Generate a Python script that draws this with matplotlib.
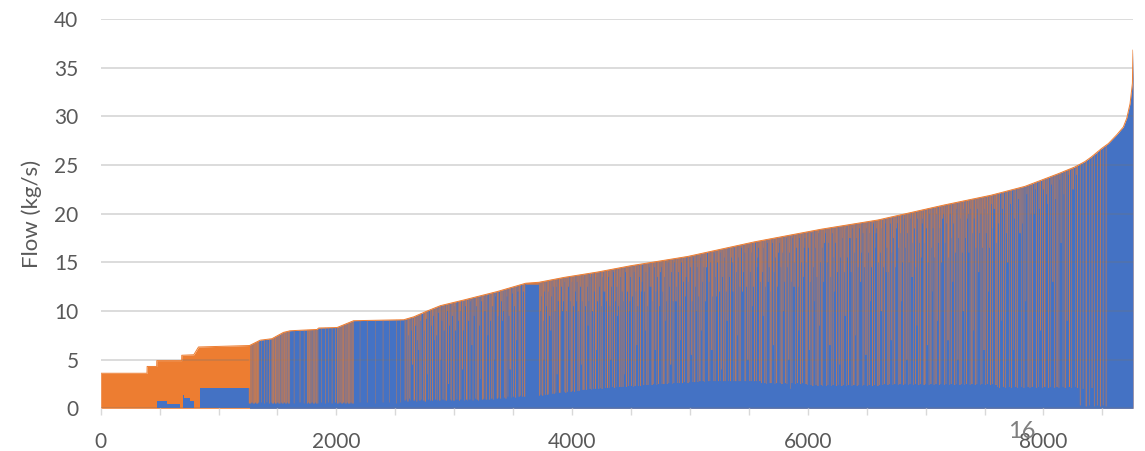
import numpy as np
import matplotlib
matplotlib.use("Agg")
import matplotlib.pyplot as plt
from matplotlib.patches import Polygon
from matplotlib.ticker import MultipleLocator

# ---------------- data ----------------
# total flow duration curve (orange envelope), hour -> kg/s
env_hours = [0, 393, 394, 475, 476, 687, 688, 790, 830, 1263, 1354, 1453, 1551,
             1609, 1836, 1850, 2006, 2147, 2572, 2657, 2771, 2884, 3082, 3366,
             3607, 3720, 3933, 4216, 4499, 4981, 5547, 6114, 6596, 7162, 7558,
             7842, 7984, 8125, 8267, 8352, 8409, 8494, 8551, 8622, 8678, 8707,
             8735, 8755, 8760]
env_vals = [3.6, 3.6, 4.3, 4.3, 4.9, 4.9, 5.45, 5.5, 6.3, 6.45, 7.0, 7.15, 7.8,
            7.97, 8.1, 8.25, 8.3, 9.0, 9.1, 9.4, 10.0, 10.55, 11.13, 12.0,
            12.85, 12.95, 13.45, 14.0, 14.65, 15.6, 17.1, 18.4, 19.35, 20.9, 21.9,
            22.8, 23.45, 24.1, 24.8, 25.35, 25.85, 26.7, 27.2, 28.1, 28.9, 29.8,
            31.3, 33.4, 36.8]

# blue series at the low end (step values), before it follows the envelope
blue_left_hours = [0, 476, 560, 672, 695, 705, 760, 790, 843, 1263]
blue_left_vals = [0.0, 0.7, 0.42, 0.0, 1.3, 1.1, 0.8, 0.0, 2.05, 2.05]
# isolated blue spikes in the orange zone: (start hour, hours, value)
blue_spikes = [(700, 3, 1.4), (815, 4, 6.2), (1250, 3, 6.4)]

# hours where the blue series drops below the total: (start hour, hours, blue value)
dips_b = [(1258, 9, 0.5), (1269, 7, 0.5), (1278, 10, 0.6), (1291, 6, 0.5), (1299, 9, 0.5),
          (1310, 7, 0.6), (1319, 6, 0.5), (1327, 9, 0.5), (1338, 6, 0.6),
          (1362, 2, 0.6), (1388, 3, 0.5), (1410, 2, 0.6), (1432, 4, 0.5), (1445, 3, 0.6),
          (1455, 5, 0.5), (1464, 6, 0.5), (1474, 3, 0.6), (1480, 7, 0.5), (1492, 4, 0.5),
          (1500, 6, 0.6), (1510, 3, 0.5), (1516, 8, 0.5), (1530, 4, 0.6), (1538, 6, 0.5),
          (1548, 3, 0.5), (1555, 7, 0.6), (1567, 4, 0.5), (1575, 5, 0.5), (1585, 3, 0.6),
          (1592, 6, 0.5), (1602, 4, 0.5),
          (1640, 2, 0.5), (1690, 3, 0.6), (1725, 2, 0.5),
          (1752, 5, 0.5), (1762, 4, 0.6), (1770, 7, 0.5), (1782, 3, 0.5), (1790, 6, 0.6),
          (1802, 4, 0.5), (1810, 5, 0.5), (1821, 3, 0.6), (1830, 6, 0.5), (1841, 4, 0.5),
          (1870, 2, 0.6), (1905, 3, 0.5), (1935, 2, 0.6), (1962, 3, 0.5), (1990, 4, 0.6),
          (2008, 6, 0.5), (2019, 4, 0.5), (2028, 7, 0.6), (2040, 3, 0.5), (2048, 5, 0.5),
          (2058, 8, 0.6), (2072, 4, 0.5), (2080, 6, 0.5), (2092, 3, 0.6), (2100, 5, 0.5),
          (2110, 7, 0.5), (2122, 4, 0.6), (2131, 6, 0.5), (2141, 4, 0.5),
          (2200, 1, 0.6), (2260, 2, 0.6), (2330, 1, 0.5), (2395, 2, 0.6), (2450, 1, 0.6),
          (2510, 2, 0.5), (2545, 1, 0.6)]

dips_c = [(2581, 4, 0.8), (2590, 2, 0.9), (2604, 6, 0.7), (2617, 3, 1.0), (2626, 1, 0.8),
          (2643, 5, 4.5), (2657, 7, 0.8), (2664, 2, 0.9), (2681, 4, 0.7), (2698, 3, 6.0),
          (2706, 6, 0.8), (2722, 1, 0.9), (2739, 5, 0.8), (2751, 8, 0.7), (2770, 2, 3.5),
          (2783, 3, 0.9), (2795, 4, 0.8), (2812, 6, 0.8), (2830, 2, 7.0), (2841, 5, 0.9),
          (2858, 1, 0.8), (2874, 7, 0.8), (2885, 3, 5.0), (2903, 4, 0.9), (2921, 2, 0.8),
          (2930, 6, 0.8), (2948, 5, 2.5), (2967, 1, 0.9), (2976, 3, 0.8), (2994, 8, 0.8),
          (3010, 4, 8.0), (3022, 2, 0.9), (3041, 5, 0.8), (3055, 3, 0.9), (3067, 6, 4.0),
          (3086, 2, 0.8), (3101, 7, 0.9), (3112, 1, 0.8), (3131, 4, 0.9), (3148, 5, 6.5),
          (3158, 3, 0.8), (3177, 2, 1.0), (3192, 6, 0.9), (3204, 4, 0.8), (3224, 1, 3.0),
          (3238, 8, 0.9), (3250, 3, 1.0), (3269, 5, 0.9), (3285, 2, 7.5), (3296, 4, 0.9),
          (3316, 6, 1.0), (3331, 3, 0.9), (3343, 1, 5.0), (3362, 7, 1.0), (3378, 2, 1.1),
          (3389, 5, 1.0), (3409, 4, 9.0), (3424, 3, 1.1), (3436, 6, 1.0), (3455, 2, 1.2),
          (3471, 8, 4.0), (3482, 1, 1.1), (3502, 4, 1.2), (3517, 5, 1.1), (3530, 3, 7.0),
          (3548, 6, 1.2), (3563, 2, 1.3), (3576, 4, 1.2), (3594, 7, 1.2), (3607, 111, 12.7)]
dips_c_top = [(2612, 3, 7.5), (2633, 2, 8.0), (2672, 4, 8.5), (2690, 2, 7.0), (2715, 3, 9.0),
              (2746, 2, 8.0), (2762, 5, 9.2), (2803, 2, 8.5), (2821, 3, 9.5), (2850, 4, 7.5),
              (2866, 2, 9.8), (2895, 3, 9.0), (2912, 5, 8.0), (2940, 2, 10.0), (2958, 3, 8.5),
              (2985, 4, 9.5), (3003, 2, 10.5), (3033, 3, 9.0), (3048, 5, 10.0), (3077, 2, 8.0),
              (3094, 3, 10.5), (3121, 4, 9.0), (3140, 2, 11.0), (3167, 3, 9.5), (3185, 5, 10.5),
              (3214, 2, 8.5), (3230, 3, 11.0), (3259, 4, 10.0), (3277, 2, 11.5), (3306, 3, 9.0),
              (3324, 5, 10.5), (3352, 2, 11.5), (3370, 3, 9.5), (3398, 4, 11.0), (3416, 2, 10.0),
              (3446, 3, 11.5), (3463, 5, 9.5), (3492, 2, 11.8), (3509, 3, 10.5), (3539, 4, 12.0),
              (3556, 2, 10.0), (3586, 3, 12.0)]

dips_d = [(3722, 5, 1.3), (3735, 3, 1.4), (3748, 6, 1.3), (3760, 2, 5.0), (3774, 4, 1.4),
          (3790, 7, 1.4), (3801, 1, 1.5), (3817, 5, 8.0), (3830, 3, 1.5), (3845, 6, 1.5),
          (3862, 2, 1.6), (3871, 4, 3.5), (3889, 8, 1.6), (3903, 3, 1.6), (3916, 5, 10.0),
          (3932, 2, 1.7), (3944, 6, 1.6), (3960, 4, 1.7), (3977, 1, 6.0), (3989, 7, 1.7),
          (4004, 3, 1.8), (4018, 5, 1.7), (4035, 2, 11.0), (4047, 6, 1.8), (4063, 4, 1.8),
          (4076, 3, 4.5), (4090, 8, 1.9), (4107, 2, 1.9), (4119, 5, 1.9), (4134, 3, 8.5),
          (4150, 6, 2.0), (4163, 1, 1.9), (4178, 4, 2.0), (4195, 7, 2.0), (4208, 3, 6.0),
          (4224, 5, 2.0), (4240, 2, 2.1), (4252, 6, 2.0), (4269, 4, 12.0), (4283, 3, 2.1),
          (4297, 8, 2.1), (4314, 2, 2.1), (4326, 5, 5.0), (4342, 3, 2.2), (4357, 6, 2.1),
          (4373, 1, 2.2), (4385, 4, 9.5), (4401, 7, 2.2), (4415, 3, 2.2), (4430, 5, 2.2),
          (4446, 2, 3.5), (4459, 6, 2.2), (4475, 4, 2.3), (4489, 3, 11.0), (4503, 5, 2.3),
          (4519, 2, 2.2), (4532, 7, 2.3), (4548, 4, 6.5), (4563, 3, 2.3), (4577, 6, 2.3),
          (4592, 2, 13.0)]
dips_d_top = [(3728, 3, 10.0), (3742, 2, 11.5), (3755, 4, 9.0), (3767, 3, 12.0), (3782, 2, 10.5),
              (3797, 3, 12.0), (3809, 5, 9.5), (3824, 2, 11.5), (3838, 3, 12.5), (3853, 4, 10.0),
              (3867, 2, 12.5), (3880, 3, 11.0), (3896, 2, 9.5), (3910, 4, 12.5), (3924, 3, 11.0),
              (3938, 2, 13.0), (3952, 3, 10.0), (3968, 5, 12.5), (3983, 2, 11.0), (3997, 3, 13.0),
              (4011, 4, 10.5), (4026, 2, 12.0), (4041, 3, 13.0), (4056, 2, 10.0), (4070, 5, 12.5),
              (4084, 3, 11.0), (4099, 2, 13.5), (4113, 4, 10.5), (4127, 3, 12.5), (4142, 2, 11.0),
              (4157, 3, 13.5), (4171, 5, 10.0), (4186, 2, 12.0), (4201, 3, 13.5), (4216, 4, 11.0),
              (4231, 2, 12.5), (4246, 3, 10.5), (4260, 2, 13.5), (4276, 5, 12.0), (4290, 3, 11.0),
              (4306, 2, 13.5), (4320, 4, 10.5), (4334, 3, 12.5), (4349, 2, 14.0), (4364, 3, 11.0),
              (4379, 5, 12.5), (4393, 2, 10.5), (4408, 3, 13.5), (4423, 4, 12.0), (4438, 2, 11.0),
              (4452, 3, 14.0), (4467, 5, 12.0), (4482, 2, 10.0), (4496, 3, 13.5), (4511, 4, 11.5),
              (4525, 2, 14.0), (4540, 3, 12.0), (4556, 5, 10.5), (4570, 2, 13.5), (4585, 3, 12.0)]

dips_e = [(4606, 5, 2.4), (4619, 3, 8.0), (4632, 6, 2.4), (4647, 2, 2.4), (4660, 4, 12.5),
          (4676, 7, 2.4), (4690, 3, 2.5), (4703, 5, 6.0), (4719, 2, 2.4), (4731, 6, 2.5),
          (4747, 4, 14.0), (4762, 3, 2.5), (4775, 8, 2.5), (4792, 2, 9.0), (4805, 5, 2.5),
          (4820, 3, 2.6), (4834, 6, 4.5), (4850, 1, 2.5), (4862, 4, 2.6), (4878, 7, 11.0),
          (4893, 3, 2.6), (4907, 5, 2.6), (4922, 2, 7.0), (4935, 6, 2.6), (4951, 4, 2.7),
          (4965, 3, 13.5), (4980, 8, 2.6), (4996, 2, 2.7), (5009, 5, 5.5), (5024, 3, 2.7),
          (5038, 6, 2.7), (5053, 1, 10.0), (5066, 4, 2.7), (5081, 7, 2.8), (5096, 3, 8.0),
          (5110, 5, 2.8), (5125, 2, 2.7), (5138, 6, 14.5), (5154, 4, 2.8), (5168, 3, 2.8),
          (5182, 8, 6.0), (5198, 2, 2.8), (5211, 5, 2.8), (5226, 3, 11.5), (5240, 6, 2.8),
          (5256, 1, 2.8), (5268, 4, 4.0), (5284, 7, 2.8), (5299, 3, 2.8), (5313, 5, 9.0),
          (5328, 2, 2.8), (5341, 6, 2.8), (5357, 4, 15.0), (5372, 3, 2.8), (5385, 8, 2.8),
          (5402, 2, 7.5), (5415, 5, 2.8), (5430, 3, 2.8), (5444, 6, 12.0), (5460, 1, 2.8),
          (5472, 4, 2.8), (5488, 7, 5.0), (5503, 3, 2.8), (5517, 5, 2.8), (5532, 2, 10.5),
          (5545, 6, 2.8), (5561, 4, 2.8), (5575, 3, 15.5), (5589, 8, 2.8)]
dips_e_top = [(4613, 3, 12.0), (4626, 2, 14.0), (4640, 3, 10.5), (4653, 2, 14.5), (4668, 4, 12.5),
              (4683, 2, 11.0), (4697, 3, 14.5), (4711, 2, 12.0), (4725, 4, 13.5), (4739, 3, 10.5),
              (4755, 2, 14.5), (4769, 3, 12.0), (4784, 4, 13.5), (4798, 2, 11.0), (4813, 3, 15.0),
              (4827, 2, 12.5), (4842, 4, 14.0), (4856, 3, 11.0), (4870, 2, 15.0), (4886, 3, 12.5),
              (4900, 4, 14.0), (4915, 2, 10.5), (4929, 3, 15.0), (4943, 2, 13.0), (4958, 4, 11.5),
              (4973, 3, 15.5), (4988, 2, 13.0), (5002, 3, 14.5), (5016, 4, 11.0), (5031, 2, 15.5),
              (5045, 3, 12.5), (5060, 2, 14.5), (5074, 4, 11.5), (5089, 3, 15.5), (5103, 2, 13.0),
              (5118, 3, 14.5), (5132, 4, 11.0), (5146, 2, 16.0), (5161, 3, 13.0), (5175, 2, 15.0),
              (5190, 4, 11.5), (5204, 3, 16.0), (5219, 2, 13.5), (5233, 3, 15.0), (5248, 4, 12.0),
              (5262, 2, 16.0), (5276, 3, 13.5), (5292, 2, 15.5), (5306, 4, 12.0), (5320, 3, 16.5),
              (5335, 2, 13.5), (5349, 3, 15.5), (5364, 4, 12.0), (5379, 2, 16.5), (5394, 3, 14.0),
              (5408, 2, 15.5), (5423, 4, 12.5), (5437, 3, 16.5), (5452, 2, 14.0), (5466, 3, 16.0),
              (5480, 4, 12.5), (5495, 2, 16.5), (5510, 3, 14.0), (5524, 2, 16.0), (5539, 4, 12.5),
              (5553, 3, 17.0), (5568, 2, 14.5), (5582, 3, 16.5), (5596, 4, 13.0)]

dips_f = [(5606, 5, 2.6), (5620, 3, 9.5), (5633, 6, 2.6), (5649, 2, 2.5), (5662, 4, 13.0),
          (5678, 7, 2.6), (5692, 3, 2.6), (5705, 5, 6.5), (5721, 2, 2.5), (5733, 6, 2.6),
          (5749, 4, 16.0), (5764, 3, 2.6), (5777, 8, 2.5), (5794, 2, 10.0), (5807, 5, 2.6),
          (5822, 3, 2.5), (5836, 6, 5.0), (5852, 2, 2.0), (5864, 4, 2.6), (5880, 7, 12.5),
          (5895, 3, 2.5), (5909, 5, 2.6), (5924, 2, 8.0), (5937, 6, 2.5), (5953, 4, 2.6),
          (5967, 3, 16.5), (5982, 8, 2.5), (5998, 2, 2.4), (6011, 5, 6.0), (6026, 3, 2.4),
          (6040, 6, 2.3), (6055, 1, 11.0), (6068, 4, 2.4), (6083, 7, 2.3), (6098, 3, 8.5),
          (6112, 5, 2.4), (6127, 2, 2.3), (6140, 6, 17.0), (6156, 4, 2.3), (6170, 3, 2.4),
          (6184, 8, 6.5), (6200, 2, 2.3), (6213, 5, 2.4), (6228, 3, 12.0), (6242, 6, 2.3),
          (6258, 1, 2.4), (6270, 4, 4.5), (6286, 7, 2.3), (6301, 3, 2.4), (6315, 5, 9.5),
          (6330, 2, 2.3), (6343, 6, 2.4), (6359, 4, 17.5), (6374, 3, 2.3), (6387, 8, 2.4),
          (6404, 2, 7.5), (6417, 5, 2.3), (6432, 3, 2.4), (6446, 6, 13.0), (6462, 1, 2.3),
          (6474, 4, 2.4), (6490, 7, 5.5), (6505, 3, 2.3), (6519, 5, 2.4), (6534, 2, 11.0),
          (6547, 6, 2.3), (6563, 4, 2.4), (6577, 3, 18.0), (6591, 8, 2.3)]
dips_f_top = [(5613, 3, 14.0), (5626, 2, 16.5), (5641, 3, 12.5), (5655, 2, 17.0), (5670, 4, 14.5),
              (5685, 2, 12.0), (5699, 3, 17.0), (5713, 2, 14.0), (5727, 4, 15.5), (5741, 3, 12.5),
              (5757, 2, 17.0), (5771, 3, 14.5), (5786, 4, 16.0), (5800, 2, 13.0), (5815, 3, 17.5),
              (5829, 2, 14.5), (5844, 4, 16.0), (5858, 3, 13.0), (5872, 2, 17.5), (5888, 3, 15.0),
              (5902, 4, 16.5), (5917, 2, 12.5), (5931, 3, 17.5), (5945, 2, 15.0), (5960, 4, 13.5),
              (5975, 3, 17.5), (5990, 2, 15.0), (6004, 3, 16.5), (6018, 4, 13.0), (6033, 2, 18.0),
              (6047, 3, 14.5), (6062, 2, 16.5), (6076, 4, 13.5), (6091, 3, 18.0), (6105, 2, 15.0),
              (6120, 3, 16.5), (6134, 4, 13.0), (6148, 2, 18.0), (6163, 3, 15.0), (6177, 2, 17.0),
              (6192, 4, 13.5), (6206, 3, 18.0), (6221, 2, 15.5), (6235, 3, 17.0), (6250, 4, 14.0),
              (6264, 2, 18.5), (6278, 3, 15.5), (6294, 2, 17.5), (6308, 4, 14.0), (6322, 3, 18.5),
              (6337, 2, 15.5), (6351, 3, 17.5), (6366, 4, 14.0), (6381, 2, 18.5), (6396, 3, 16.0),
              (6410, 2, 17.5), (6425, 4, 14.5), (6439, 3, 18.5), (6454, 2, 16.0), (6468, 3, 18.0),
              (6482, 4, 14.5), (6497, 2, 18.5), (6512, 3, 16.0), (6526, 2, 18.0), (6541, 4, 14.5),
              (6555, 3, 19.0), (6570, 2, 16.5), (6584, 3, 18.5), (6598, 4, 15.0)]

dips_g = [(6608, 4, 2.4), (6621, 6, 10.0), (6636, 3, 2.4), (6650, 5, 2.5), (6664, 2, 14.0),
          (6677, 7, 2.4), (6693, 3, 2.5), (6706, 5, 7.0), (6722, 2, 2.4), (6735, 6, 2.5),
          (6751, 4, 18.5), (6766, 3, 2.4), (6779, 8, 2.5), (6796, 2, 11.0), (6809, 5, 2.4),
          (6824, 3, 2.5), (6838, 6, 5.0), (6854, 2, 2.4), (6866, 4, 2.5), (6882, 7, 13.5),
          (6897, 3, 2.4), (6911, 5, 2.5), (6926, 2, 8.5), (6939, 6, 2.4), (6955, 4, 2.5),
          (6969, 3, 19.0), (6984, 8, 2.4), (7000, 2, 2.5), (7013, 5, 6.5), (7028, 3, 2.4),
          (7042, 6, 2.5), (7057, 1, 12.0), (7070, 4, 2.4), (7085, 7, 2.5), (7100, 3, 9.0),
          (7114, 5, 2.4), (7129, 2, 2.5), (7142, 6, 19.5), (7158, 4, 2.4), (7172, 3, 2.5),
          (7186, 8, 7.0), (7202, 2, 2.4), (7215, 5, 2.5), (7230, 3, 13.0), (7244, 6, 2.4),
          (7260, 1, 2.5), (7272, 4, 5.0), (7288, 7, 2.4), (7303, 3, 2.5), (7317, 5, 10.0),
          (7332, 2, 2.4), (7345, 6, 2.5), (7361, 4, 20.0), (7376, 3, 2.4), (7389, 8, 2.5),
          (7406, 2, 8.0), (7419, 5, 2.4), (7434, 3, 2.5), (7448, 6, 14.0), (7464, 1, 2.4),
          (7476, 4, 2.5), (7492, 7, 6.0), (7507, 3, 2.4), (7521, 5, 2.5), (7536, 2, 12.0),
          (7549, 6, 2.4), (7565, 4, 2.5), (7579, 3, 20.5), (7593, 8, 2.4)]
dips_g_top = [(6613, 3, 16.0), (6626, 2, 18.5), (6641, 3, 14.5), (6655, 2, 19.0), (6670, 4, 16.5),
              (6685, 2, 14.0), (6699, 3, 19.0), (6713, 2, 16.0), (6727, 4, 17.5), (6741, 3, 14.5),
              (6757, 2, 19.0), (6771, 3, 16.5), (6786, 4, 18.0), (6800, 2, 15.0), (6815, 3, 19.5),
              (6829, 2, 16.5), (6844, 4, 18.0), (6858, 3, 15.0), (6872, 2, 19.5), (6888, 3, 17.0),
              (6902, 4, 18.5), (6917, 2, 14.5), (6931, 3, 19.5), (6945, 2, 17.0), (6960, 4, 15.5),
              (6975, 3, 19.5), (6990, 2, 17.0), (7004, 3, 18.5), (7018, 4, 15.0), (7033, 2, 20.0),
              (7047, 3, 16.5), (7062, 2, 18.5), (7076, 4, 15.5), (7091, 3, 20.0), (7105, 2, 17.0),
              (7120, 3, 18.5), (7134, 4, 15.0), (7148, 2, 20.0), (7163, 3, 17.0), (7177, 2, 19.0),
              (7192, 4, 15.5), (7206, 3, 20.0), (7221, 2, 17.5), (7235, 3, 19.0), (7250, 4, 16.0),
              (7264, 2, 20.5), (7278, 3, 17.5), (7294, 2, 19.5), (7308, 4, 16.0), (7322, 3, 20.5),
              (7337, 2, 17.5), (7351, 3, 19.5), (7366, 4, 16.0), (7381, 2, 20.5), (7396, 3, 18.0),
              (7410, 2, 19.5), (7425, 4, 16.5), (7439, 3, 20.5), (7454, 2, 18.0), (7468, 3, 20.0),
              (7482, 4, 16.5), (7497, 2, 20.5), (7512, 3, 18.0), (7526, 2, 20.0), (7541, 4, 16.5),
              (7555, 3, 21.0), (7570, 2, 18.5), (7584, 3, 20.5), (7598, 4, 17.0)]

dips_h = [(7608, 3, 2.2), (7625, 6, 2.1), (7641, 2, 9.0), (7658, 5, 2.2), (7674, 4, 2.1),
          (7693, 7, 15.0), (7710, 3, 2.2), (7727, 5, 2.1), (7745, 2, 6.0), (7762, 6, 2.2),
          (7779, 4, 2.1), (7797, 8, 18.0), (7815, 3, 2.2), (7832, 5, 2.1), (7850, 2, 11.0),
          (7867, 6, 2.2), (7884, 4, 2.1), (7902, 7, 2.2), (7920, 3, 20.0), (7937, 5, 2.1),
          (7955, 2, 2.2), (7972, 6, 8.0), (7989, 4, 2.1), (8007, 8, 2.2), (8025, 3, 22.0),
          (8042, 5, 2.1), (8060, 2, 2.2), (8077, 6, 13.0), (8094, 4, 2.1), (8112, 7, 2.2),
          (8130, 3, 2.1), (8147, 5, 17.0), (8165, 2, 2.2), (8182, 6, 2.1), (8199, 4, 9.0),
          (8217, 8, 2.2), (8235, 3, 2.1), (8252, 5, 22.5), (8270, 2, 2.2), (8287, 6, 2.1)]
dips_h_top = [(7617, 2, 19.0), (7650, 3, 20.5), (7684, 2, 18.0), (7719, 3, 21.0), (7754, 2, 19.5),
              (7788, 3, 21.5), (7824, 2, 19.0), (7858, 3, 22.0), (7893, 2, 20.0), (7928, 3, 22.5),
              (7963, 2, 20.5), (7998, 3, 22.5), (8033, 2, 21.0), (8068, 3, 23.0), (8103, 2, 21.5),
              (8138, 3, 23.5), (8173, 2, 22.0), (8208, 3, 24.0), (8243, 2, 22.5), (8278, 3, 24.0)]

dips_i = [(8310, 4, 0.3), (8335, 3, 2.0), (8360, 6, 0.2), (8388, 2, 0.3), (8410, 5, 2.1),
          (8432, 3, 0.2), (8455, 4, 0.3), (8480, 6, 0.2), (8505, 3, 0.3), (8530, 4, 0.2),
          (8753, 7, 33.6)]

x_ticks = [0, 2000, 4000, 6000, 8000]
y_ticks = [0, 5, 10, 15, 20, 25, 30, 35, 40]

# ---------------- drawing ----------------
ORANGE = "#ED7D31"
BLUE = "#4472C4"
TXT = "#595959"

plt.rcParams["font.family"] = ["Lato", "DejaVu Sans"]
fig = plt.figure(figsize=(11.45, 4.51), dpi=100)
ax = fig.add_axes([100.7 / 1145, 1 - 408.3 / 451, (1133 - 100.7) / 1145, (408.3 - 19) / 451])

ax.set_xlim(0, 8760)
ax.set_ylim(0, 40)

# total (orange)
ax.fill_between(env_hours, env_vals, 0, color=ORANGE, linewidth=0, zorder=1)

# blue series: low part on the left, then following the total
ax.fill_between(blue_left_hours, blue_left_vals, 0, step="post", color=BLUE,
                linewidth=0, zorder=2)
h = np.array(env_hours)
v = np.array(env_vals)
m = h >= 1263
ax.fill_between(h[m], v[m], 0, color=BLUE, linewidth=0, zorder=2)

sp = np.array(blue_spikes)
ax.bar(sp[:, 0], sp[:, 2], width=sp[:, 1], align="edge", color=BLUE,
       linewidth=0, zorder=3)

# orange where blue drops below the total (clipped to the total envelope)
clip = Polygon(np.column_stack([env_hours + [8760, 0], env_vals + [0, 0]]),
               closed=True, transform=ax.transData)
dips = np.array(dips_b + dips_c + dips_c_top + dips_d + dips_d_top + dips_e +
                dips_e_top + dips_f + dips_f_top + dips_g + dips_g_top + dips_h +
                dips_h_top + dips_i)
bars = ax.bar(dips[:, 0], 40 - dips[:, 2], bottom=dips[:, 2], width=dips[:, 1],
              align="edge", color=ORANGE, edgecolor=ORANGE, linewidth=0.1,
              alpha=0.8, zorder=3)
for b in bars:
    b.set_snap(False)
    b.set_clip_path(clip)

ax.plot(env_hours, env_vals, color=ORANGE, lw=0.7, zorder=4)

# axes styling
for s in ax.spines.values():
    s.set_visible(False)
ax.set_yticks(y_ticks)
ax.set_xticks(x_ticks)
ax.xaxis.set_minor_locator(MultipleLocator(500))
ax.grid(axis="y", color=(0.45, 0.45, 0.45), alpha=0.27, lw=1.3, zorder=5)
ax.set_axisbelow(False)
ax.tick_params(axis="y", length=0, pad=16, labelsize=15, labelcolor=TXT)
ax.tick_params(axis="x", which="both", length=5, width=1, color="#D9D9D9",
               pad=12, labelsize=15, labelcolor=TXT)
ax.set_ylabel("Flow (kg/s)", fontsize=16, color=TXT)
ax.yaxis.set_label_coords(-0.057, 0.5)

fig.text(1022 / 1145, 1 - 432 / 451, "16", fontsize=17, color="#7F7F7F",
         ha="center", va="center")

fig.savefig("out.png", dpi=100)
